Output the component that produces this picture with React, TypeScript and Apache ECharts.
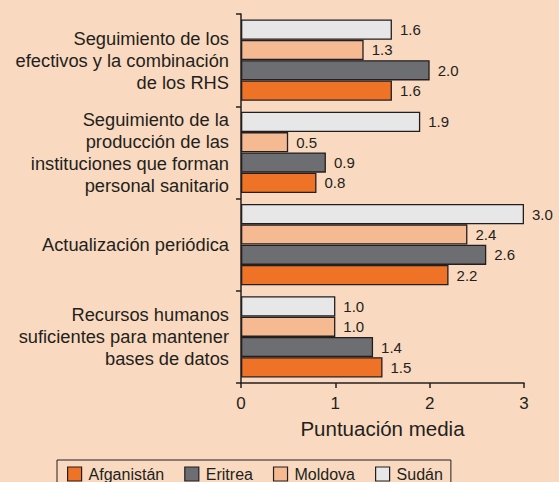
import React, { useEffect, useRef } from "react";
import * as echarts from "echarts";

const categories = [
  "Seguimiento de los\nefectivos y la combinación\nde los RHS",
  "Seguimiento de la\nproducción de las\ninstituciones que forman\npersonal sanitario",
  "Actualización periódica",
  "Recursos humanos\nsuficientes para mantener\nbases de datos",
];
const countries = ["Afganistán", "Eritrea", "Moldova", "Sudán"];
const afganistan = [1.6, 0.8, 2.2, 1.5];
const eritrea = [2.0, 0.9, 2.6, 1.4];
const moldova = [1.3, 0.5, 2.4, 1.0];
const sudan = [1.6, 1.9, 3.0, 1.0];
const xTicks = [0, 1, 2, 3];

const colors: Record<string, string> = {
  "Afganistán": "#EE7326",
  "Eritrea": "#6D6E71",
  "Moldova": "#F5BA92",
  "Sudán": "#E6E7E6",
};
const valuesByCountry: Record<string, number[]> = {
  "Afganistán": afganistan,
  "Eritrea": eritrea,
  "Moldova": moldova,
  "Sudán": sudan,
};

const FONT = "'Liberation Sans', Arial, Helvetica, sans-serif";
const INK = "#231F20";

export default function App() {
  const ref = useRef<HTMLDivElement>(null);
  useEffect(() => {
    if (!ref.current) return;
    const chart = echarts.init(ref.current, undefined, { renderer: "svg" });
    const seriesOrder = ["Sudán", "Moldova", "Eritrea", "Afganistán"];
    chart.setOption({
      animation: false,
      backgroundColor: "#F9D9BF",
      textStyle: { fontFamily: FONT },
      grid: { left: 241, right: 35, top: 14, bottom: 99, containLabel: false },
      legend: {
        data: countries,
        left: 57,
        top: 460,
        orient: "horizontal",
        borderColor: INK,
        borderWidth: 1,
        padding: [6, 8, 6, 10],
        itemWidth: 14,
        itemHeight: 14,
        itemGap: 20,
        icon: "rect",
        selectedMode: false,
        itemStyle: { borderColor: INK, borderWidth: 1.2 },
        textStyle: { fontFamily: FONT, fontSize: 16, color: INK, padding: [0, 0, 0, 2] },
      },
      xAxis: {
        type: "value",
        min: 0,
        max: 3,
        interval: 1,
        name: "Puntuación media",
        nameLocation: "middle",
        nameGap: 35,
        nameTextStyle: { fontFamily: FONT, fontSize: 20.5, color: INK },
        axisLine: { show: true, lineStyle: { color: INK, width: 1.5 } },
        axisTick: { show: true, length: 5, lineStyle: { color: INK, width: 1.5 } },
        axisLabel: { fontFamily: FONT, fontSize: 17, color: INK, margin: 12 },
        splitLine: { show: false },
        data: xTicks,
      },
      yAxis: {
        type: "category",
        inverse: true,
        data: categories,
        axisLine: { show: true, lineStyle: { color: INK, width: 1.5 } },
        axisTick: { show: true, length: 5, lineStyle: { color: INK, width: 1.5 } },
        axisLabel: {
          fontFamily: FONT,
          fontSize: 18.3,
          lineHeight: 22,
          color: INK,
          margin: 12,
          align: "right",
        },
      },
      series: seriesOrder.map((name) => ({
        name,
        type: "bar",
        data: valuesByCountry[name],
        barGap: "0%",
        barCategoryGap: "12%",
        itemStyle: { color: colors[name], borderColor: INK, borderWidth: 1.3 },
        label: {
          show: true,
          position: "right",
          distance: 8,
          fontFamily: FONT,
          fontSize: 15,
          color: INK,
          formatter: (p: any) => Number(p.value).toFixed(1),
        },
      })),
    });
    return () => chart.dispose();
  }, []);
  return <div ref={ref} style={{ width: 559, height: 482, position: "absolute", left: 0, top: 0 }} />;
}
